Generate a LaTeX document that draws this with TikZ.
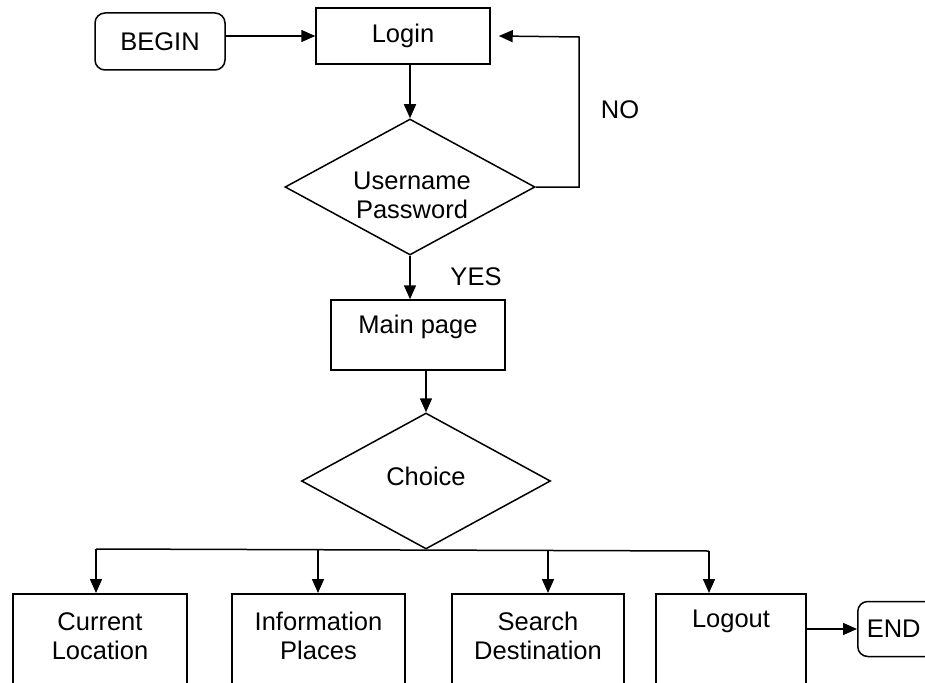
\documentclass[tikz,border=0pt]{standalone}
\usepackage{fontspec}
\setmainfont{Liberation Sans}
\usetikzlibrary{shapes.geometric,arrows.meta}
\tikzset{
  box/.style={draw, rectangle, inner sep=0pt},
  termbox/.style={draw, rectangle, rounded corners=10pt, inner sep=0pt},
  decision/.style={draw, diamond, inner sep=0pt, shape aspect=1.84},
  txt/.style={align=center, inner sep=0pt},
  flow/.style={-{Triangle[length=14pt,width=12pt]}},
}
\begin{document}
\begin{tikzpicture}[x=1pt,y=-1pt,line width=1.5pt,font=\fontsize{25.5}{29}\selectfont]
\useasboundingbox (0,0) rectangle (925,682);
\clip (0,0) rectangle (925,682);
% top part
\node[termbox, minimum width=130pt, minimum height=57pt] (begin) at (160,41.5) {BEGIN};
\node[box, minimum width=174pt, minimum height=56pt] (login) at (403,36) {Login};
\node[decision, minimum width=250pt, minimum height=136pt] (d1) at (410,187) {};
\node[txt] (d1txt) at (412,195) {Username\\Password};
\node[box, minimum width=174pt, minimum height=70pt] (main) at (418,335) {};
\node[txt] (maintxt) at (418,327) {Main page};
\node[decision, minimum width=249pt, minimum height=136pt] (choice) at (426,481) {};
\node[txt] (choicetxt) at (426,476) {Choice};
\node[txt] (no) at (620,110) {NO};
\node[txt] (yes) at (476,277) {YES};
% bottom boxes
\node[box, minimum width=174pt, minimum height=110pt, anchor=north] (cur) at (100,593) {};
\node[box, minimum width=173pt, minimum height=110pt, anchor=north] (inf) at (318.5,593) {};
\node[box, minimum width=172pt, minimum height=110pt, anchor=north] (sea) at (538,593) {};
\node[box, minimum width=150pt, minimum height=110pt, anchor=north] (logout) at (731,593) {};
\node[termbox, minimum width=100pt, minimum height=55pt, anchor=west] (end) at (857,629) {};
\node[txt, anchor=west] (endtxt) at (866,629) {END};
\node[txt] (curtxt) at (100,636) {Current\\Location};
\node[txt] (inftxt) at (318.5,636) {Information\\Places};
\node[txt] (seatxt) at (538,636) {Search\\Destination};
\node[txt] (logtxt) at (731,621) {Logout};
% connectors
\draw[flow] (begin.east |- login.west) -- (login.west);
\draw[flow] (login.south -| d1.north) -- (d1.north);
\coordinate (nocorner) at (579,37);
\draw[flow] (d1.east) -| (nocorner) -- ([xshift=8pt]login.east);
\draw[flow] (d1.south) -- (d1.south |- main.north);
\draw[flow] (main.south -| choice.north) -- (choice.north);
\coordinate (busL) at (96,549);
\coordinate (busR) at (709,551);
\draw (busL) -- (busR);
\coordinate (t2) at (318,549.7);
\coordinate (t3) at (548,550.4);
\draw[flow] (busL) -- (busL |- cur.north);
\draw[flow] (t2) -- (t2 |- inf.north);
\draw[flow] (t3) -- (t3 |- sea.north);
\draw[flow] (busR) -- (busR |- logout.north);
\draw[flow] (logout.east |- end.west) -- (end.west);
\end{tikzpicture}
\end{document}
